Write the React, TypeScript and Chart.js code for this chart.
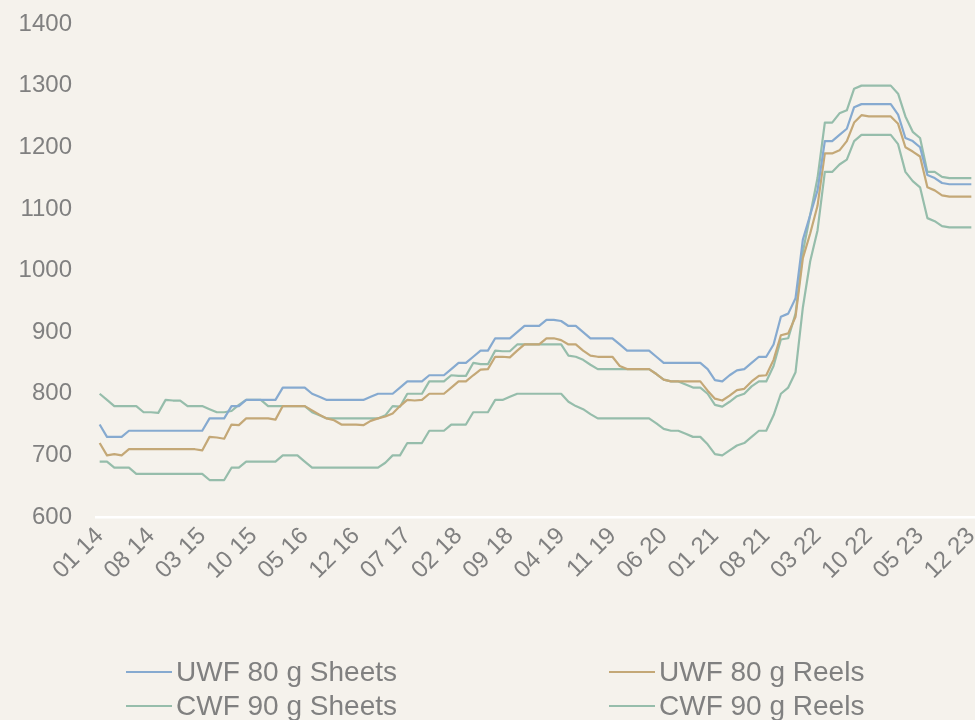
import React, { useEffect, useRef } from 'react';
import { Chart, registerables } from 'chart.js';

Chart.register(...registerables);

// Monthly categories 01 2014 .. 12 2023
const YEARS = ['14', '15', '16', '17', '18', '19', '20', '21', '22', '23'];
const MONTH_NUMS = ['01', '02', '03', '04', '05', '06', '07', '08', '09', '10', '11', '12'];
const CATEGORIES: string[] = YEARS.flatMap((y) => MONTH_NUMS.map((m) => `${m} ${y}`));
const LABEL_STEP = 7;

const Y_MIN = 600;
const Y_MAX = 1400;
const Y_STEP = 100;

const UWF_SHEETS = [
  750, 730, 730, 730, 740, 740, 740, 740, 740, 740,
  740, 740, 740, 740, 740, 760, 760, 760, 780, 780,
  790, 790, 790, 790, 790, 810, 810, 810, 810, 800,
  795, 790, 790, 790, 790, 790, 790, 795, 800, 800,
  800, 810, 820, 820, 820, 830, 830, 830, 840, 850,
  850, 860, 870, 870, 890, 890, 890, 900, 910, 910,
  910, 920, 920, 918, 910, 910, 900, 890, 890, 890,
  890, 880, 870, 870, 870, 870, 860, 850, 850, 850,
  850, 850, 850, 840, 822, 820, 830, 838, 840, 850,
  860, 860, 880, 925, 930, 955, 1050, 1090, 1130, 1210,
  1210, 1220, 1230, 1265, 1270, 1270, 1270, 1270, 1270, 1253,
  1215, 1210, 1200, 1155, 1150, 1142, 1140, 1140, 1140, 1140,
];

const UWF_REELS = [
  720, 700, 702, 700, 710, 710, 710, 710, 710, 710,
  710, 710, 710, 710, 708, 730, 729, 727, 750, 749,
  760, 760, 760, 760, 758, 780, 780, 780, 780, 773,
  766, 760, 757, 750, 750, 750, 749, 756, 760, 763,
  768, 780, 790, 789, 790, 800, 800, 800, 810, 820,
  820, 830, 839, 840, 860, 860, 859, 870, 880, 880,
  880, 890, 890, 887, 880, 880, 870, 862, 860, 860,
  860, 845, 840, 840, 840, 840, 832, 823, 820, 820,
  820, 820, 820, 805, 792, 789, 797, 806, 808, 820,
  829, 830, 855, 895, 898, 925, 1020, 1060, 1105, 1190,
  1190, 1195, 1210, 1240, 1252, 1250, 1250, 1250, 1250, 1238,
  1200, 1193, 1185, 1135, 1130, 1122, 1120, 1120, 1120, 1120,
];

const CWF_SHEETS = [
  800, 790, 780, 780, 780, 780, 770, 770, 769, 790,
  789, 789, 780, 780, 780, 775, 770, 770, 772, 782,
  790, 790, 790, 780, 780, 780, 780, 780, 780, 770,
  765, 760, 760, 760, 760, 760, 760, 760, 760, 765,
  780, 779, 800, 800, 800, 820, 820, 820, 830, 829,
  829, 850, 848, 848, 870, 869, 869, 880, 880, 880,
  880, 880, 880, 880, 862, 860, 855, 847, 840, 840,
  840, 840, 840, 840, 840, 840, 832, 823, 820, 820,
  815, 810, 810, 800, 782, 779, 787, 796, 800, 812,
  820, 820, 845, 888, 890, 930, 1030, 1090, 1150, 1240,
  1240, 1255, 1260, 1295, 1300, 1300, 1300, 1300, 1300, 1287,
  1250, 1225, 1215, 1160, 1160, 1152, 1150, 1150, 1150, 1150,
];

const CWF_REELS = [
  690, 690, 680, 680, 680, 670, 670, 670, 670, 670,
  670, 670, 670, 670, 670, 660, 660, 660, 680, 680,
  690, 690, 690, 690, 690, 700, 700, 700, 690, 680,
  680, 680, 680, 680, 680, 680, 680, 680, 680, 688,
  700, 700, 720, 720, 720, 740, 740, 740, 750, 750,
  750, 770, 770, 770, 790, 790, 795, 800, 800, 800,
  800, 800, 800, 800, 787, 780, 775, 767, 760, 760,
  760, 760, 760, 760, 760, 760, 752, 743, 740, 740,
  735, 730, 730, 718, 702, 700, 708, 716, 720, 730,
  740, 740, 765, 800, 810, 835, 940, 1015, 1065, 1160,
  1160, 1172, 1180, 1210, 1220, 1220, 1220, 1220, 1220, 1205,
  1160, 1145, 1135, 1085, 1080, 1072, 1070, 1070, 1070, 1070,
];

const SERIES_NAMES = ['UWF 80 g Sheets', 'UWF 80 g Reels', 'CWF 90 g Sheets', 'CWF 90 g Reels'];
const SERIES_DATA = [UWF_SHEETS, UWF_REELS, CWF_SHEETS, CWF_REELS];
const SERIES_COLORS = ['#86aad0', '#c4a877', '#96bdab', '#96bdab'];

const BG = '#f5f2ec';
const TEXT = '#808080';
const FONT = '"Liberation Sans", Arial, Helvetica, sans-serif';

export default function App() {
  const canvasRef = useRef<HTMLCanvasElement | null>(null);

  useEffect(() => {
    document.body.style.margin = '0';
    document.body.style.background = BG;
    const canvas = canvasRef.current;
    if (!canvas) return;
    const chart = new Chart(canvas, {
      type: 'line',
      data: {
        labels: CATEGORIES,
        datasets: SERIES_DATA.map((d, i) => ({
          label: SERIES_NAMES[i],
          data: d,
          borderColor: SERIES_COLORS[i],
          backgroundColor: SERIES_COLORS[i],
          borderWidth: 2.2,
          pointRadius: 0,
          tension: 0,
          borderJoinStyle: 'round' as const,
          fill: false,
        })),
      },
      options: {
        responsive: false,
        animation: false,
        devicePixelRatio: 1,
        layout: { padding: { top: 24, right: 0, bottom: 0, left: 0 } },
        plugins: {
          legend: { display: false },
          tooltip: { enabled: false },
        },
        scales: {
          x: {
            type: 'category',
            offset: true,
            grid: { display: false, drawTicks: false },
            border: { display: true, color: '#ffffff', width: 2.5 },
            ticks: {
              autoSkip: false,
              minRotation: 45,
              maxRotation: 45,
              padding: 5,
              color: TEXT,
              font: { family: FONT, size: 24 },
              callback: (_v: any, idx: number) => (idx % LABEL_STEP === 0 ? CATEGORIES[idx] : ''),
            },
            afterFit: (scale: any) => {
              scale.height = 203;
              scale.paddingLeft = 0;
              scale.paddingRight = 0;
            },
          },
          y: {
            min: Y_MIN,
            max: Y_MAX,
            grid: { display: false, drawTicks: false },
            border: { display: false },
            ticks: {
              stepSize: Y_STEP,
              padding: 24,
              color: TEXT,
              font: { family: FONT, size: 24 },
              callback: (v: any) => String(v),
            },
            afterFit: (scale: any) => {
              scale.width = 96;
              scale.paddingTop = 0;
              scale.paddingBottom = 0;
            },
          },
        },
      },
    });
    return () => chart.destroy();
  }, []);

  const legendItems = [
    { i: 0, x: 126, base: 682 },
    { i: 1, x: 609, base: 682 },
    { i: 2, x: 126, base: 716 },
    { i: 3, x: 609, base: 716 },
  ];

  return (
    <div style={{ position: 'fixed', left: 0, top: 0, width: 975, height: 720, background: BG, overflow: 'hidden' }}>
      <canvas ref={canvasRef} width={975} height={720} style={{ position: 'absolute', left: 0, top: 0, width: 975, height: 720 }} />
      {legendItems.map(({ i, x, base }) => (
        <div key={i} style={{ position: 'absolute', left: x, top: base - 24, height: 28, display: 'flex', alignItems: 'center', whiteSpace: 'nowrap' }}>
          <div style={{ width: 46, height: 2.5, background: SERIES_COLORS[i], marginRight: 4 }} />
          <span style={{ fontFamily: FONT, fontSize: 28, lineHeight: '28px', color: TEXT }}>{SERIES_NAMES[i]}</span>
        </div>
      ))}
    </div>
  );
}
